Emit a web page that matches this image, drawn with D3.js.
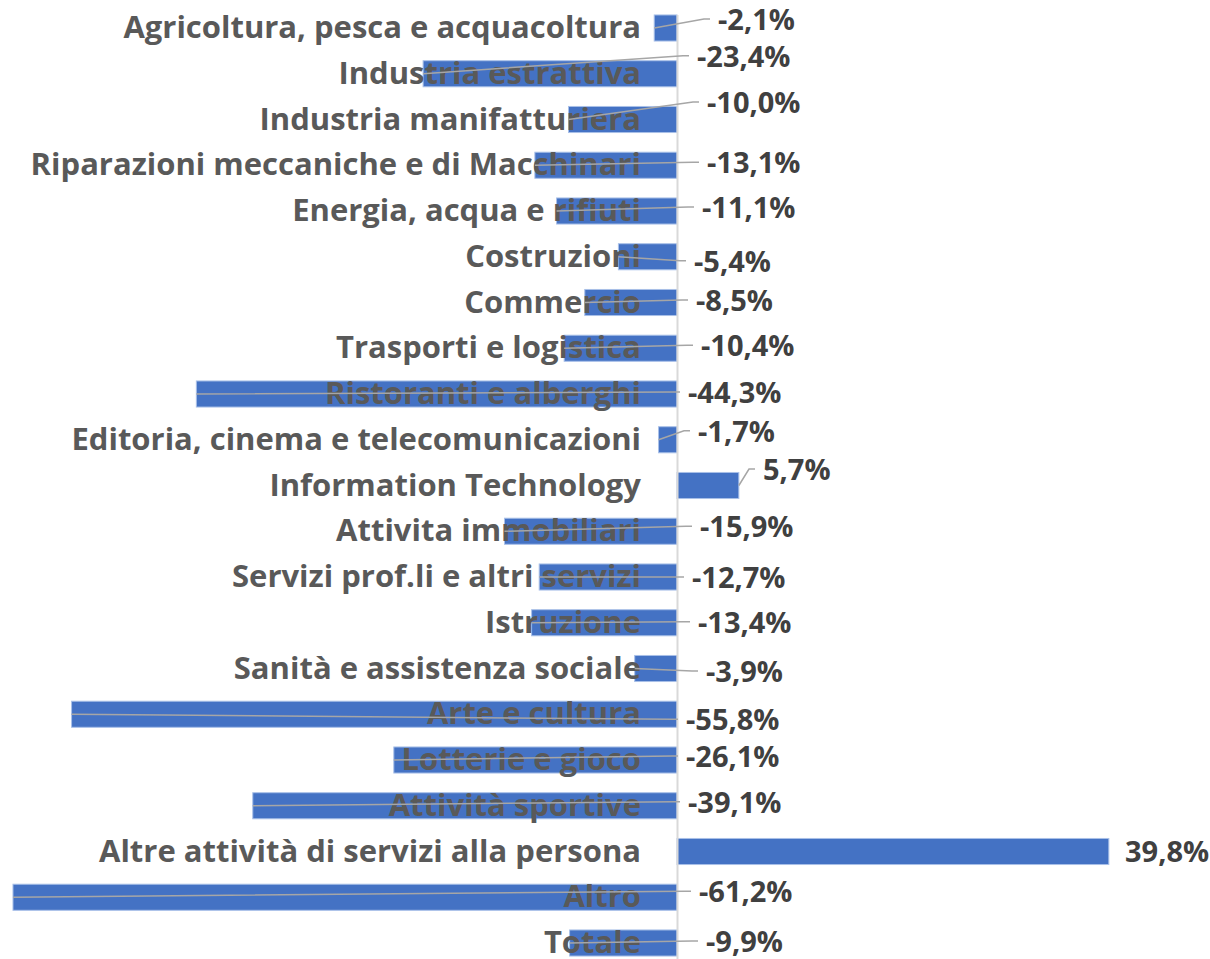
<!DOCTYPE html>
<html>
<head>
<meta charset="utf-8">
<script src="https://cdn.jsdelivr.net/npm/d3@7"></script>
<style>
  html, body { margin: 0; padding: 0; background: #ffffff; }
  svg { display: block; }
</style>
</head>
<body>
<svg id="chart" width="1210" height="959"></svg>
<script>
// ---- data ----
const categories = [
  "Agricoltura, pesca e acquacoltura",
  "Industria estrattiva",
  "Industria manifatturiera",
  "Riparazioni meccaniche e di Macchinari",
  "Energia, acqua e rifiuti",
  "Costruzioni",
  "Commercio",
  "Trasporti e logistica",
  "Ristoranti e alberghi",
  "Editoria, cinema e telecomunicazioni",
  "Information Technology",
  "Attivita immobiliari",
  "Servizi prof.li e altri servizi",
  "Istruzione",
  "Sanità e assistenza sociale",
  "Arte e cultura",
  "Lotterie e gioco",
  "Attività sportive",
  "Altre attività di servizi alla persona",
  "Altro",
  "Totale"
];
const values = [-2.1, -23.4, -10.0, -13.1, -11.1, -5.4, -8.5, -10.4, -44.3, -1.7, 5.7,
                -15.9, -12.7, -13.4, -3.9, -55.8, -26.1, -39.1, 39.8, -61.2, -9.9];

// manually moved data-label offsets (layout): px from zero line to label left, baseline offset from row centre
const labelDx = [41, 20, 30, 30, 25, 17, 19, 24, 11, 21, 86, 23, 15, 21, 29, 9, 9, 11, 448, 22, 29];
const labelDy = [2, -7, -6.5, 8, 7, 15, 8.5, 8, 9, 2, -5.5, 6, 11, 10, 13.5, 16, 7, 7, 10, 5, 9];

const fmt = v => (v.toFixed(1).replace(".", ",")) + "%";

// ---- layout ----
const svg = d3.select("#chart");
const x0 = 677, k = 10.85;
const x = d3.scaleLinear().domain([-60, 40]).range([x0 - 60 * k, x0 + 40 * k]);
const y = d3.scalePoint().domain(categories).range([28, 943]);
const barH = y.step() * 0.57;

// bars
svg.append("g").selectAll("rect").data(values).join("rect")
  .attr("x", d => Math.min(x(d), x(0)))
  .attr("y", (d, i) => y(categories[i]) - barH / 2)
  .attr("width", d => Math.abs(x(d) - x(0)))
  .attr("height", barH)
  .attr("fill", "#4472C4")
  .attr("stroke", "#a9c0e8")
  .attr("stroke-width", 1);

// vertical axis line
svg.append("line")
  .attr("x1", x(0) + 0.5).attr("x2", x(0) + 0.5)
  .attr("y1", 15).attr("y2", 959)
  .attr("stroke", "#d9d9d9").attr("stroke-width", 2);

// category labels
svg.append("g").selectAll("text").data(categories).join("text")
  .attr("x", x(0) - 36)
  .attr("y", d => y(d) + 10)
  .attr("text-anchor", "end")
  .attr("font-family", "'Open Sans', Lato, sans-serif")
  .attr("font-weight", 700)
  .attr("font-size", 31)
  .attr("fill", "#595959")
  .text(d => d);

// leader lines
const lead = svg.append("g");
values.forEach((v, i) => {
  const cy = y(categories[i]);
  const lx = x(0) + labelDx[i];
  const ly = cy + labelDy[i] - 11;
  const bx = x(v);
  const dist = Math.hypot(lx - bx, ly - cy);
  if (dist < 20) return;
  lead.append("polyline")
    .attr("points", [[bx, cy], [lx - 14, ly], [lx - 8, ly]].map(p => p.join(",")).join(" "))
    .attr("fill", "none")
    .attr("stroke", "#a6a6a6")
    .attr("stroke-width", 1.5);
});

// value labels
svg.append("g").selectAll("text").data(values).join("text")
  .attr("x", (d, i) => x(0) + labelDx[i])
  .attr("y", (d, i) => y(categories[i]) + labelDy[i])
  .attr("font-family", "'Open Sans', Lato, sans-serif")
  .attr("font-weight", 700)
  .attr("font-size", 29)
  .attr("fill", "#404040")
  .text(d => fmt(d));
</script>
</body>
</html>
